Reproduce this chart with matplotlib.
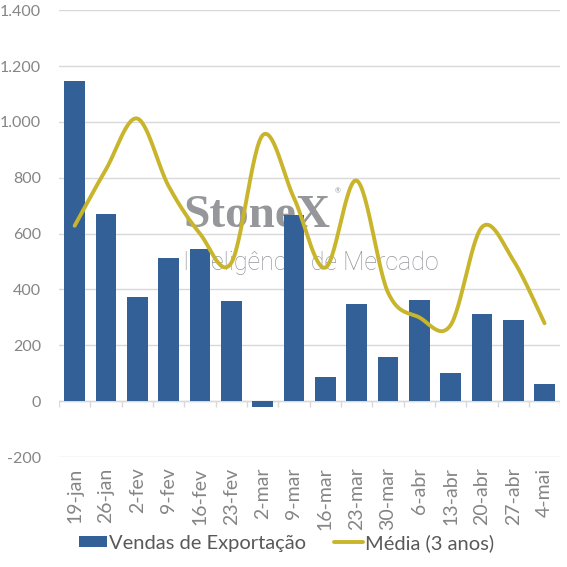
import matplotlib.pyplot as plt
import numpy as np
from matplotlib.ticker import FuncFormatter, MultipleLocator

categories = ["19-jan", "26-jan", "2-fev", "9-fev", "16-fev", "23-fev", "2-mar", "9-mar",
              "16-mar", "23-mar", "30-mar", "6-abr", "13-abr", "20-abr", "27-abr", "4-mai"]
vendas = [1145, 669, 372, 512, 544, 360, -21, 665, 86, 347, 157, 361, 100, 311, 290, 61]
media = [628, 830, 1012, 770, 600, 495, 952, 728, 478, 790, 390, 300, 272, 623, 505, 279]

BAR_COLOR = "#336096"
LINE_COLOR = "#C9B52B"
TEXT_COLOR = "#858585"
GRID_COLOR = "#D9D9D9"
MARK_COLOR = "#95979B"


def smooth(x, y, n=30):
    # excel style smoothed line (catmull-rom as cubic bezier)
    x = np.asarray(x, float)
    y = np.asarray(y, float)
    px = np.concatenate([[x[0]], x, [x[-1]]])
    py = np.concatenate([[y[0]], y, [y[-1]]])
    t = np.linspace(0, 1, n)[:, None]
    xs, ys = [], []
    for i in range(1, len(px) - 2):
        p0 = np.array([px[i], py[i]])
        p3 = np.array([px[i + 1], py[i + 1]])
        c1 = p0 + (np.array([px[i + 1], py[i + 1]]) - np.array([px[i - 1], py[i - 1]])) / 6
        c2 = p3 - (np.array([px[i + 2], py[i + 2]]) - p0) / 6
        pts = ((1 - t) ** 3) * p0 + 3 * ((1 - t) ** 2) * t * c1 + 3 * (1 - t) * t ** 2 * c2 + t ** 3 * p3
        xs.append(pts[:, 0])
        ys.append(pts[:, 1])
    return np.concatenate(xs), np.concatenate(ys)


plt.rcParams["font.family"] = ["Lato", "DejaVu Sans"]

fig = plt.figure(figsize=(5.67, 5.67), dpi=100)
ax = fig.add_axes([0.104, 0.194, 0.884, 0.788])

x = np.arange(len(categories))
bars = ax.bar(x, vendas, width=0.66, color=BAR_COLOR, zorder=2, label="Vendas de Exportação")
sx, sy = smooth(x, media)
line, = ax.plot(sx, sy, color=LINE_COLOR, lw=2.8, zorder=3, solid_capstyle="round",
                label="Média (3 anos)")

ax.set_xlim(-0.5, len(categories) - 0.5)
ax.set_ylim(-200, 1400)
ax.yaxis.set_major_locator(MultipleLocator(200))
ax.yaxis.set_major_formatter(FuncFormatter(lambda v, p: f"{int(v):,}".replace(",", ".")))
ax.grid(axis="y", color=GRID_COLOR, lw=1, zorder=0)
ax.set_axisbelow(True)

# zero axis line with category separators
ax.axhline(0, color=GRID_COLOR, lw=1, zorder=1)
ax.vlines(np.arange(len(categories) + 1) - 0.5, 0, -22, color=GRID_COLOR, lw=1, zorder=1)

ax.set_xticks(x)
ax.set_xticklabels(categories, rotation=90, fontsize=14, color=TEXT_COLOR)
ax.tick_params(axis="x", length=0, pad=7.5)
ax.tick_params(axis="y", length=0, pad=13, labelsize=11.5, labelcolor=TEXT_COLOR)
for s in ax.spines.values():
    s.set_visible(False)

# watermark (behind bars)
ax.text(0.248, 0.515, "StoneX", transform=ax.transAxes, fontsize=34, color=MARK_COLOR,
        family="Liberation Serif", fontweight="bold", zorder=1.5)
ax.text(0.55, 0.59, "®", transform=ax.transAxes, fontsize=5, color=MARK_COLOR, zorder=1.5)
ax.text(0.248, 0.418, "Inteligência de Mercado", transform=ax.transAxes, fontsize=18,
        color=MARK_COLOR, family="Roboto", fontweight="light", zorder=1.5)

fig.legend(handles=[bars, line], loc="lower center", bbox_to_anchor=(0.505, -0.005), ncol=2,
           frameon=False, fontsize=14.5, labelcolor="#595959", handlelength=1.4,
           handleheight=0.5, handletextpad=0.1, columnspacing=1.4)

fig.savefig("out.png", dpi=100)
